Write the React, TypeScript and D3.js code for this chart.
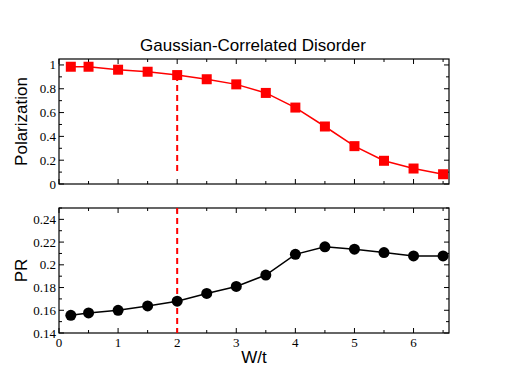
import React from 'react';
import { scaleLinear, line, range } from 'd3';

const wt = [0.2, 0.5, 1, 1.5, 2, 2.5, 3, 3.5, 4, 4.5, 5, 5.5, 6, 6.5];
const polarization = [0.985, 0.985, 0.96, 0.943, 0.915, 0.88, 0.837, 0.765, 0.642, 0.483, 0.318, 0.195, 0.13, 0.082];
const pr = [0.1556, 0.1577, 0.16, 0.1638, 0.168, 0.1748, 0.181, 0.191, 0.2092, 0.2158, 0.2138, 0.2108, 0.2078, 0.2078];
const xTicks = [0, 1, 2, 3, 4, 5, 6];
const polTicks = [0, 0.2, 0.4, 0.6, 0.8, 1];
const prTicks = [0.14, 0.16, 0.18, 0.2, 0.22, 0.24];
const markerX = 2;
const title = 'Gaussian-Correlated Disorder';

const serif = 'Liberation Serif, Times New Roman, serif';
const sans = 'Liberation Sans, Arial, sans-serif';

export default () => {
    const left = 59, right = 449;
    const top1 = 59, bottom1 = 184;
    const top2 = 208, bottom2 = 333;

    const x = scaleLinear().domain([0, 6.6]).range([left, right]);
    const y1 = scaleLinear().domain([0, 1.05]).range([bottom1, top1]);
    const y2 = scaleLinear().domain([0.14, 0.25]).range([bottom2, top2]);

    const xMinor = range(0, 6.6, 0.5);
    const lineTop = line<number>().x((d, i) => x(wt[i])).y((d) => y1(d));
    const lineBot = line<number>().x((d, i) => x(wt[i])).y((d) => y2(d));

    const frame = (yTop: number, yBot: number, yScale: any, majors: number[], minorStep: number, labels: boolean, fmt: (v: number) => string) => {
        const [d0, d1] = yScale.domain();
        const yMinor = range(d0, d1 + 1e-9, minorStep);
        return (
            <g>
                {xMinor.map((v) => {
                    const major = Math.abs(v - Math.round(v)) < 1e-9;
                    const len = major ? 5 : 3;
                    return (
                        <g key={'x' + v}>
                            <line x1={x(v)} x2={x(v)} y1={yBot} y2={yBot - len} stroke="#000" strokeWidth={1} />
                            <line x1={x(v)} x2={x(v)} y1={yTop} y2={yTop + len} stroke="#000" strokeWidth={1} />
                        </g>
                    );
                })}
                {yMinor.map((v) => {
                    const major = majors.some((m) => Math.abs(m - v) < 1e-9);
                    const len = major ? 5 : 3;
                    return (
                        <g key={'y' + v}>
                            <line x1={left} x2={left + len} y1={yScale(v)} y2={yScale(v)} stroke="#000" strokeWidth={1} />
                            <line x1={right} x2={right - len} y1={yScale(v)} y2={yScale(v)} stroke="#000" strokeWidth={1} />
                        </g>
                    );
                })}
                {majors.map((v) => (
                    <text key={'yl' + v} x={left - 3} y={yScale(v) + 4.5} textAnchor="end" style={{ fontFamily: serif, fontSize: 13 }}>{fmt(v)}</text>
                ))}
                {labels && xTicks.map((v) => (
                    <text key={'xl' + v} x={x(v)} y={yBot + 14} textAnchor="middle" style={{ fontFamily: serif, fontSize: 13 }}>{v}</text>
                ))}
                <rect x={left} y={yTop} width={right - left} height={yBot - yTop} fill="none" stroke="#000" strokeWidth={1.2} />
            </g>
        );
    };

    return (
        <svg width={507} height={392} style={{ position: 'absolute', left: 0, top: 0 }}>
            <rect width={507} height={392} fill="#fff" />
            <text x={253} y={51} textAnchor="middle" style={{ fontFamily: sans, fontSize: 17 }}>{title}</text>

            {frame(top1, bottom1, y1, polTicks, 0.1, false, (v) => String(v))}
            <line x1={x(markerX)} x2={x(markerX)} y1={y1(polarization[4])} y2={y1(0.085)} stroke="#ff0000" strokeWidth={2} strokeDasharray="6,4" />
            <path d={lineTop(polarization) || ''} fill="none" stroke="#ff0000" strokeWidth={1.5} />
            {polarization.map((v, i) => (
                <rect key={i} x={x(wt[i]) - 5} y={y1(v) - 5} width={10} height={10} fill="#ff0000" />
            ))}

            {frame(top2, bottom2, y2, prTicks, 0.01, true, (v) => String(+v.toFixed(2)))}
            <line x1={x(markerX)} x2={x(markerX)} y1={top2} y2={bottom2} stroke="#ff0000" strokeWidth={2} strokeDasharray="6,4" />
            <path d={lineBot(pr) || ''} fill="none" stroke="#000" strokeWidth={1.5} />
            {pr.map((v, i) => (
                <circle key={i} cx={x(wt[i])} cy={y2(v)} r={5.5} fill="#000" />
            ))}

            <text transform={`translate(27,${(top1 + bottom1) / 2}) rotate(-90)`} textAnchor="middle" style={{ fontFamily: sans, fontSize: 17 }}>Polarization</text>
            <text transform={`translate(27,${(top2 + bottom2) / 2}) rotate(-90)`} textAnchor="middle" style={{ fontFamily: sans, fontSize: 17 }}>PR</text>
            <text x={254} y={363} textAnchor="middle" style={{ fontFamily: sans, fontSize: 17 }}>W/t</text>
        </svg>
    );
};
